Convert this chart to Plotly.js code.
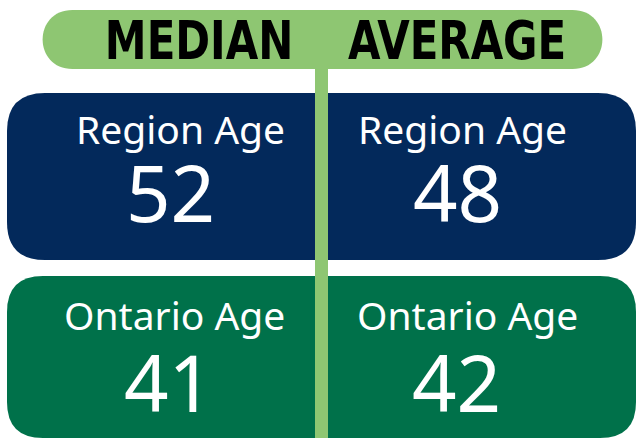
<!DOCTYPE html>
<html>
<head>
<meta charset="utf-8">
<script src="https://cdn.plot.ly/plotly-3.0.1.min.js"></script>
<style>
  html, body { margin: 0; padding: 0; background: #ffffff; }
  #chart { width: 637px; height: 438px; }
</style>
</head>
<body>
<div id="chart"></div>
<script>
// ---- data ----
const measures = ["MEDIAN", "AVERAGE"];
const rowLabels = ["Region Age", "Ontario Age"];
const medianValues = [52, 41];
const averageValues = [48, 42];

// ---- styling / layout ----
const navy = "#03295b";
const darkGreen = "#00714a";
const lightGreen = "#8ec672";

function roundRect(x0, y0, x1, y1, r) {
  return `M ${x0 + r} ${y0} L ${x1 - r} ${y0} Q ${x1} ${y0} ${x1} ${y0 + r} ` +
         `L ${x1} ${y1 - r} Q ${x1} ${y1} ${x1 - r} ${y1} L ${x0 + r} ${y1} ` +
         `Q ${x0} ${y1} ${x0} ${y1 - r} L ${x0} ${y0 + r} Q ${x0} ${y0} ${x0 + r} ${y0} Z`;
}
function pill(x0, y0, x1, y1) {
  const r = (y1 - y0) / 2;
  return `M ${x0 + r} ${y0} L ${x1 - r} ${y0} C ${x1 + r * 0.35} ${y0} ${x1 + r * 0.35} ${y1} ${x1 - r} ${y1} ` +
         `L ${x0 + r} ${y1} C ${x0 - r * 0.35} ${y1} ${x0 - r * 0.35} ${y0} ${x0 + r} ${y0} Z`;
}

const rowBoxes = [
  { y0: 93, y1: 260, color: navy, r: 38 },
  { y0: 276, y1: 438, color: darkGreen, r: 36 }
];
// label / value anchor positions per [row][col]
const labelPos = [[180, 462], [174, 467]];
const valuePos = [[170, 457], [168, 456]];
const labelY = [128, 314];
const valueY = [192, 382];
const headerX = [199, 457];

const shapes = [];
rowBoxes.forEach(b => {
  shapes.push({ type: "path", xref: "x", yref: "y", path: roundRect(7, b.y0, 636, b.y1, b.r),
    fillcolor: b.color, line: { width: 0 }, layer: "below" });
});
shapes.push({ type: "path", xref: "x", yref: "y", path: pill(43, 10, 602, 69),
  fillcolor: lightGreen, line: { width: 0 }, layer: "below" });
shapes.push({ type: "rect", xref: "x", yref: "y", x0: 315, x1: 328, y0: 60, y1: 440,
  fillcolor: lightGreen, line: { width: 0 }, layer: "above" });

const annotations = [];
measures.forEach((m, i) => {
  annotations.push({ x: headerX[i], y: 40, xref: "x", yref: "y", text: m, showarrow: false,
    xanchor: "center", yanchor: "middle",
    font: { family: "DejaVu Sans Condensed, DejaVu Sans, sans-serif", size: 53, color: "#000000", weight: 700 } });
});
const valuesByCol = [medianValues, averageValues];
rowLabels.forEach((lab, r) => {
  valuesByCol.forEach((vals, c) => {
    annotations.push({ x: labelPos[r][c], y: labelY[r], xref: "x", yref: "y", text: lab, showarrow: false,
      xanchor: "center", yanchor: "middle",
      font: { family: "Noto Sans, Lato, sans-serif", size: 39, color: "#ffffff" } });
    annotations.push({ x: valuePos[r][c], y: valueY[r], xref: "x", yref: "y", text: String(vals[r]), showarrow: false,
      xanchor: "center", yanchor: "middle",
      font: { family: "Noto Sans, Lato, sans-serif", size: 78, color: "#ffffff" } });
  });
});

const layout = {
  width: 637, height: 438,
  margin: { l: 0, r: 0, t: 0, b: 0 },
  paper_bgcolor: "#ffffff", plot_bgcolor: "#ffffff",
  xaxis: { range: [0, 637], visible: false, fixedrange: true },
  yaxis: { range: [438, 0], visible: false, fixedrange: true },
  shapes: shapes,
  annotations: annotations,
  showlegend: false
};

Plotly.newPlot("chart", [{ x: [], y: [], type: "scatter", mode: "markers", hoverinfo: "skip" }], layout,
  { displayModeBar: false, staticPlot: true }).then(gd => {
  // narrow the bold header lettering horizontally to mimic a condensed display face
  gd.querySelectorAll(".annotation").forEach(a => {
    const idx = a.getAttribute("data-index");
    if (idx === "0" || idx === "1") {
      const t = a.querySelector("text");
      if (!t) return;
      const bb = t.getBBox();
      const cx = bb.x + bb.width / 2, cy = bb.y + bb.height / 2;
      const prev = t.getAttribute("transform") || "";
      t.setAttribute("transform", `${prev} translate(${cx},${cy}) scale(0.88,1) translate(${-cx},${-cy})`);
    }
  });
});
</script>
</body>
</html>
